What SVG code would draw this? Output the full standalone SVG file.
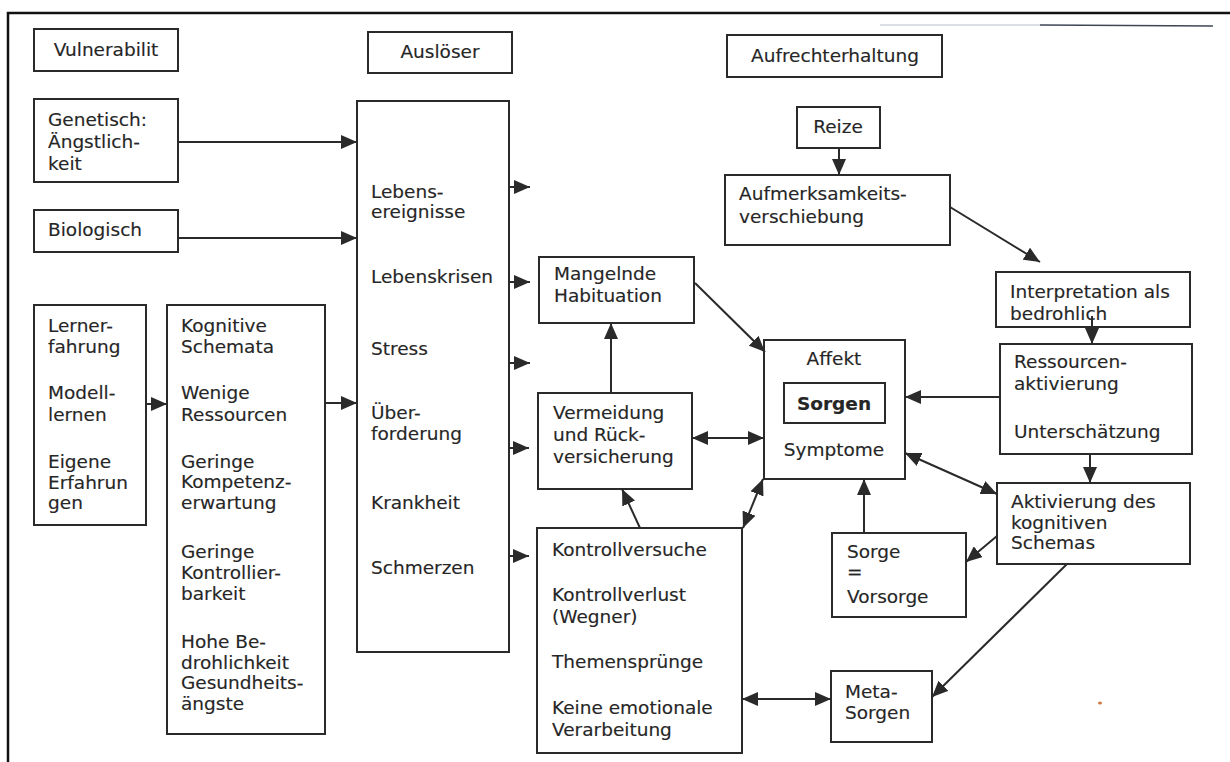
<svg xmlns="http://www.w3.org/2000/svg" width="1230" height="762" viewBox="0 0 1230 762">
<defs>
<marker id="ah" markerUnits="userSpaceOnUse" markerWidth="16" markerHeight="14" refX="16" refY="7" orient="auto-start-reverse">
<path d="M0,0 L16,7 L0,14 z" fill="#2a2a2a"/>
</marker>
<style>
.box{fill:#fff;stroke:#2a2a2a;stroke-width:2}
.t{font-family:"DejaVu Sans",Verdana,sans-serif;font-size:18.5px;fill:#262626;stroke:#262626;stroke-width:0.15}
.c{text-anchor:middle}
.b{font-weight:bold}
.con path{fill:none;stroke:#2a2a2a;stroke-width:2}
.a{marker-end:url(#ah)}
.d{marker-start:url(#ah);marker-end:url(#ah)}
</style>
</defs>
<rect x="0" y="0" width="1230" height="762" fill="#fff"/>
<path d="M8,762 V13 H1230" fill="none" stroke="#111" stroke-width="2.5"/>
<path d="M880,25 L1040,25" fill="none" stroke="#8a92a2" stroke-width="1" opacity="0.6"/>
<path d="M1040,25 L1213,26" fill="none" stroke="#3e4656" stroke-width="1.4"/>
<ellipse cx="1100" cy="703" rx="2" ry="1.5" fill="#d07a40"/>

<g id="vulnerabilitaet"><rect class="box" x="34" y="29" width="144" height="42"/><text class="t c" x="106" y="56">Vulnerabilit</text></g>
<g id="ausloeser"><rect class="box" x="368" y="32" width="144" height="41"/><text class="t c" x="440" y="58">Auslöser</text></g>
<g id="aufrechterhaltung"><rect class="box" x="727" y="35" width="215" height="42"/><text class="t" x="751" y="62">Aufrechterhaltung</text></g>

<g id="genetisch"><rect class="box" x="34" y="99" width="144" height="83"/><text class="t" x="48" y="126">Genetisch:</text><text class="t" x="48" y="148">Ängstlich-</text><text class="t" x="48" y="170">keit</text></g>
<g id="biologisch"><rect class="box" x="34" y="210" width="144" height="42"/><text class="t" x="48" y="236">Biologisch</text></g>
<g id="lernerfahrung"><rect class="box" x="34" y="305" width="112" height="220"/>
<text class="t" x="48" y="332">Lerner-</text><text class="t" x="48" y="353">fahrung</text>
<text class="t" x="48" y="399">Modell-</text><text class="t" x="48" y="421">lernen</text>
<text class="t" x="48" y="468">Eigene</text><text class="t" x="48" y="489">Erfahrun</text><text class="t" x="48" y="509">gen</text></g>
<g id="kognitive"><rect class="box" x="167" y="305" width="158" height="429"/>
<text class="t" x="181" y="332">Kognitive</text><text class="t" x="181" y="353">Schemata</text>
<text class="t" x="181" y="399">Wenige</text><text class="t" x="181" y="421">Ressourcen</text>
<text class="t" x="181" y="468">Geringe</text><text class="t" x="181" y="488">Kompetenz-</text><text class="t" x="181" y="509">erwartung</text>
<text class="t" x="181" y="558">Geringe</text><text class="t" x="181" y="579">Kontrollier-</text><text class="t" x="181" y="600">barkeit</text>
<text class="t" x="181" y="648">Hohe Be-</text><text class="t" x="181" y="669">drohlichkeit</text><text class="t" x="181" y="689">Gesundheits-</text><text class="t" x="181" y="710">ängste</text></g>
<g id="ausloeser-liste"><rect class="box" x="357" y="101" width="152" height="551"/>
<text class="t" x="371" y="198">Lebens-</text><text class="t" x="371" y="218">ereignisse</text>
<text class="t" x="371" y="283">Lebenskrisen</text>
<text class="t" x="371" y="355">Stress</text>
<text class="t" x="371" y="419">Über-</text><text class="t" x="371" y="440">forderung</text>
<text class="t" x="371" y="509">Krankheit</text>
<text class="t" x="371" y="574">Schmerzen</text></g>

<g id="reize"><rect class="box" x="797" y="107" width="83" height="41"/><text class="t c" x="838" y="133">Reize</text></g>
<g id="aufmerksamkeit"><rect class="box" x="725" y="175" width="225" height="70"/><text class="t" x="739" y="200">Aufmerksamkeits-</text><text class="t" x="739" y="223">verschiebung</text></g>
<g id="interpretation"><rect class="box" x="996" y="272" width="194" height="55"/><text class="t" x="1010" y="298">Interpretation als</text><text class="t" x="1010" y="320">bedrohlich</text></g>
<g id="ressourcen"><rect class="box" x="1000" y="344" width="192" height="110"/><text class="t" x="1014" y="368">Ressourcen-</text><text class="t" x="1014" y="390">aktivierung</text><text class="t" x="1014" y="438">Unterschätzung</text></g>
<g id="aktivierung"><rect class="box" x="997" y="483" width="193" height="81"/><text class="t" x="1011" y="508">Aktivierung des</text><text class="t" x="1011" y="529">kognitiven</text><text class="t" x="1011" y="549">Schemas</text></g>
<g id="mangelnde"><rect class="box" x="539" y="257" width="155" height="66"/><text class="t" x="554" y="280">Mangelnde</text><text class="t" x="554" y="302">Habituation</text></g>
<g id="vermeidung"><rect class="box" x="538" y="393" width="154" height="96"/><text class="t" x="553" y="419">Vermeidung</text><text class="t" x="553" y="441">und Rück-</text><text class="t" x="553" y="463">versicherung</text></g>
<g id="affekt"><rect class="box" x="764" y="340" width="141" height="139"/><text class="t c" x="834" y="365">Affekt</text>
<rect class="box" x="784" y="383" width="101" height="40"/><text class="t c b" x="834" y="410">Sorgen</text>
<text class="t c" x="834" y="456">Symptome</text></g>
<g id="kontrolle"><rect class="box" x="537" y="528" width="205" height="225"/>
<text class="t" x="552" y="556">Kontrollversuche</text>
<text class="t" x="552" y="601">Kontrollverlust</text><text class="t" x="552" y="623">(Wegner)</text>
<text class="t" x="552" y="668">Themensprünge</text>
<text class="t" x="552" y="714">Keine emotionale</text><text class="t" x="552" y="736">Verarbeitung</text></g>
<g id="sorge-vorsorge"><rect class="box" x="832" y="533" width="134" height="84"/><text class="t" x="847" y="558">Sorge</text><text class="t" x="847" y="578">=</text><text class="t" x="847" y="603">Vorsorge</text></g>
<g id="meta-sorgen"><rect class="box" x="831" y="671" width="101" height="71"/><text class="t" x="845" y="698">Meta-</text><text class="t" x="845" y="719">Sorgen</text></g>

<g id="connectors" class="con">
<path class="a" d="M178,142 H357"/>
<path class="a" d="M178,238 H357"/>
<path class="a" d="M146,404 H167"/>
<path class="a" d="M325,403 H357"/>
<path class="a" d="M509,187 H530"/>
<path class="a" d="M509,282 H530"/>
<path class="a" d="M509,363 H530"/>
<path class="a" d="M509,448 H529"/>
<path class="a" d="M509,556 H529"/>
<path class="a" d="M839,148 V175"/>
<path class="a" d="M950,207 L1040,262"/>
<path class="a" d="M1092,316 V344"/>
<path class="a" d="M695,283 L765,352"/>
<path class="a" d="M611,393 V323"/>
<path class="d" d="M692,438 H764"/>
<path class="a" d="M640,528 L622,489"/>
<path class="d" d="M743,528 L763,479"/>
<path class="d" d="M742,699 H831"/>
<path class="a" d="M1000,397 H905"/>
<path class="a" d="M1090,454 V483"/>
<path class="d" d="M905,453 L997,494"/>
<path class="a" d="M864,533 V479"/>
<path class="a" d="M997,536 L966,562"/>
<path class="a" d="M1067,564 L932,697"/>
</g>
</svg>
